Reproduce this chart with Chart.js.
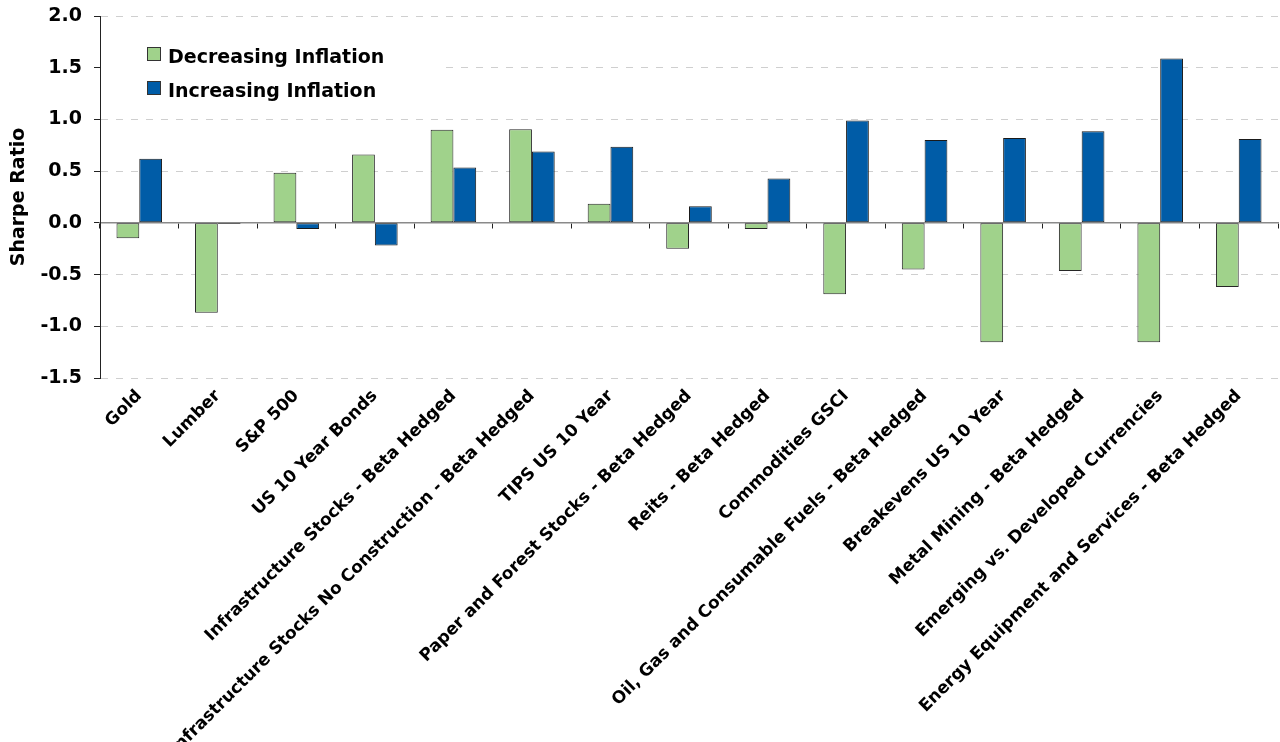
<!DOCTYPE html>
<html>
<head>
<meta charset="utf-8">
<script src="https://cdn.jsdelivr.net/npm/chart.js@4.4.0/dist/chart.umd.min.js"></script>
<style>
  html, body { margin: 0; padding: 0; background: #fff; }
</style>
</head>
<body>
<canvas id="sharpeChart" width="1280" height="742"></canvas>
<script>
// chart data
var categories = [
    'Gold', 'Lumber', 'S&P 500', 'US 10 Year Bonds',
    'Infrastructure Stocks - Beta Hedged',
    'Infrastructure Stocks No Construction - Beta Hedged',
    'TIPS US 10 Year', 'Paper and Forest Stocks - Beta Hedged',
    'Reits - Beta Hedged', 'Commodities GSCI',
    'Oil, Gas and Consumable Fuels - Beta Hedged',
    'Breakevens US 10 Year', 'Metal Mining - Beta Hedged',
    'Emerging vs. Developed Currencies',
    'Energy Equipment and Services - Beta Hedged'
];
var decreasingInflation = [-0.15, -0.87, 0.485, 0.66, 0.90, 0.905, 0.185, -0.25, -0.06, -0.69, -0.45, -1.155, -0.465, -1.155, -0.62];
var increasingInflation = [0.62, -0.01, -0.06, -0.22, 0.535, 0.69, 0.735, 0.16, 0.43, 0.99, 0.80, 0.82, 0.885, 1.59, 0.81];
var yTicks = [-1.5, -1.0, -0.5, 0.0, 0.5, 1.0, 1.5, 2.0];

var FONT = '"DejaVu Sans", "Liberation Sans", Arial, sans-serif';
Chart.defaults.font.family = FONT;

// legend drawn inside the plot, on a white box like the original
var legendBox = {
    id: 'legendBox',
    afterDatasetsDraw: function (chart) {
        var ctx = chart.ctx;
        var area = chart.chartArea;
        ctx.save();
        ctx.fillStyle = '#ffffff';
        ctx.fillRect(area.left + 1, 30, 345, 76);
        chart.data.datasets.forEach(function (ds, i) {
            var y = 47 + i * 34;
            ctx.fillStyle = ds.backgroundColor;
            ctx.fillRect(147, y, 14, 14);
            ctx.strokeStyle = '#333';
            ctx.lineWidth = 1;
            ctx.strokeRect(147.5, y + 0.5, 13, 13);
            ctx.fillStyle = '#000';
            ctx.font = 'bold 19px ' + FONT;
            ctx.textBaseline = 'alphabetic';
            ctx.textAlign = 'left';
            ctx.fillText(ds.label, 168, y + 15.5);
        });
        ctx.restore();
    }
};

var ctx = document.getElementById('sharpeChart').getContext('2d');
new Chart(ctx, {
    type: 'bar',
    data: {
        labels: categories,
        datasets: [{
            label: 'Decreasing Inflation',
            data: decreasingInflation,
            xAxisID: 'x',
            backgroundColor: '#a0d28b',
            borderColor: '#262626',
            borderWidth: 1,
            borderSkipped: false,
            categoryPercentage: 0.58,
            barPercentage: 1.0
        }, {
            label: 'Increasing Inflation',
            data: increasingInflation,
            xAxisID: 'x',
            backgroundColor: '#005ca7',
            borderColor: '#1a1a1a',
            borderWidth: 1,
            borderSkipped: false,
            categoryPercentage: 0.58,
            barPercentage: 1.0
        }]
    },
    options: {
        responsive: false,
        animation: false,
        layout: { padding: { top: 16, right: 2, bottom: 0, left: 0 } },
        plugins: {
            legend: { display: false },
            tooltip: { enabled: false }
        },
        scales: {
            // axis line sitting on zero, with the category tick marks
            x: {
                axis: 'x',
                position: { y: 0 },
                offset: true,
                ticks: { display: false },
                grid: {
                    offset: true,
                    drawOnChartArea: false,
                    drawTicks: true,
                    tickLength: 5,
                    tickColor: '#222',
                    tickWidth: 1
                },
                border: { color: '#8a8a8a', width: 1.5 }
            },
            // category names under the plot
            xLabels: {
                axis: 'x',
                type: 'category',
                labels: categories,
                position: 'bottom',
                offset: true,
                grid: { display: false, drawTicks: false },
                border: { display: false },
                ticks: {
                    autoSkip: false,
                    minRotation: 45,
                    maxRotation: 45,
                    padding: 8,
                    color: '#000',
                    font: { size: 17, weight: 'bold', family: FONT }
                },
                afterFit: function (scale) { scale.height = 364; }
            },
            y: {
                min: -1.5,
                max: 2.0,
                afterBuildTicks: function (scale) {
                    scale.ticks = yTicks.map(function (v) { return { value: v }; });
                },
                ticks: {
                    callback: function (v) { return Number(v).toFixed(1); },
                    padding: 12,
                    color: '#000',
                    font: { size: 19, weight: 'bold', family: FONT }
                },
                grid: {
                    color: function (c) {
                        return c.tick && c.tick.value === 0 ? 'rgba(0,0,0,0)' : '#cfcfcf';
                    },
                    lineWidth: 1,
                    tickColor: '#222',
                    tickLength: 6,
                    tickBorderDash: []
                },
                border: { color: '#222', width: 1, dash: [7, 8] },
                title: {
                    display: true,
                    text: 'Sharpe Ratio',
                    color: '#000',
                    padding: { top: 8, bottom: 0 },
                    font: { size: 19, weight: 'bold', family: FONT }
                },
                afterFit: function (scale) {
                    scale.width = 100;
                    // let layout.padding decide the top edge of the plot
                    scale.paddingTop = 0;
                    scale.paddingBottom = 0;
                }
            }
        }
    },
    plugins: [legendBox]
});
</script>
</body>
</html>
